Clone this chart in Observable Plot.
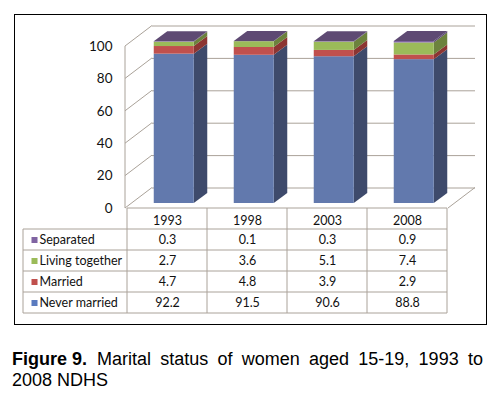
<!DOCTYPE html>
<html>
<head>
<meta charset="utf-8">
<script src="https://cdn.jsdelivr.net/npm/d3@7"></script>
<script src="https://cdn.jsdelivr.net/npm/@observablehq/plot@0.6"></script>
<style>
  body { margin: 0; background: #fff; }
  #wrap { position: relative; width: 503px; height: 412px; overflow: hidden; }
  #chart { position: absolute; left: 0; top: 0; }
  #box { position: absolute; left: 14px; top: 14px; width: 473px; height: 311px; box-sizing: border-box; border: 1.5px solid #000; pointer-events: none; }
  #caption { position: absolute; left: 12px; top: 349px; width: 471px; font-family: "Liberation Sans", Arial, sans-serif; font-size: 18px; line-height: 21px; color: #000; }
  #caption .l1 { display: flex; white-space: pre; }
  #caption .words { display: flex; justify-content: space-between; flex: 1 1 auto; margin-left: 10px; }
  #caption .word { display: block; flex: 0 0 auto; }
</style>
</head>
<body>
<div id="wrap">
  <div id="chart"></div>
  <div id="box"></div>
  <div id="caption"></div>
</div>
<script>
// ---- data ----
const years = ["1993", "1998", "2003", "2008"];
const statuses = ["Never married", "Married", "Living together", "Separated"];
const neverMarried = [92.2, 91.5, 90.6, 88.8];
const married = [4.7, 4.8, 3.9, 2.9];
const livingTogether = [2.7, 3.6, 5.1, 7.4];
const separated = [0.3, 0.1, 0.3, 0.9];
const yTicks = [0, 20, 40, 60, 80, 100];
const tableOrder = ["Separated", "Living together", "Married", "Never married"];
const captionLabel = "Figure 9.";
const captionLine1 = ["Marital", "status", "of", "women", "aged", "15-19,", "1993", "to"];
const captionLine2 = "2008 NDHS";

// ---- caption (justified first line, split into words) ----
{
  const cap = d3.select("#caption");
  const l1 = cap.append("div").attr("class", "l1");
  l1.append("b").text(captionLabel);
  const sp = l1.append("div").attr("class", "words");
  captionLine1.forEach(w => sp.append("span").attr("class", "word").text(w));
  cap.append("div").text(captionLine2);
}

// ---- styles ----
const frontColors = ["#6279ad", "#c0504d", "#9bbb59", "#8064a2"];
const sideColors = ["#3e4a6b", "#8c3532", "#6c823d", "#5b4773"];
const topColor = "#5e4a73";
const legendColors = ["#5a7bbf", "#c0504d", "#9bbb59", "#8064a2"];
const GRID = "#aaa299";
const FONT = "Lato, 'Open Sans', sans-serif";
const FS = 12.5;
const DX = 27, DY = -20.5;        // wall depth
const BDX = 13.5, BDY = -10;      // bar depth
const FX = 6.75, FY = -5;         // bar front offset
const INSET = 20;
const ROW = 21;

const seriesValues = [neverMarried, married, livingTogether, separated];
const rows = [];
years.forEach((year, i) => {
  let base = 0;
  statuses.forEach((status, s) => {
    const v = seriesValues[s][i];
    rows.push({year, status, s, value: v, y1: base, y2: base + v});
    base += v;
  });
});

function walls(index, {x, y}, values, dims) {
  const g = d3.create("svg:g").attr("stroke", GRID).attr("fill", "none").attr("stroke-width", 1);
  const x0 = dims.marginLeft, x1 = dims.width - dims.marginRight;
  for (const t of yTicks) {
    g.append("line").attr("x1", x0).attr("y1", y(t)).attr("x2", x0 + DX).attr("y2", y(t) + DY);
  }
  g.append("line").attr("x1", x0).attr("y1", y(0)).attr("x2", x0).attr("y2", y(100));
  g.append("line").attr("x1", x1).attr("y1", y(0)).attr("x2", x1 + DX).attr("y2", y(0) + DY);
  return g.node();
}

function barSides(index, {x, y}) {
  const g = d3.create("svg:g");
  const bw = x.bandwidth();
  for (const d of rows) {
    const xr = x(d.year) + bw - INSET + FX;
    const yt = y(d.y2) + FY, yb = y(d.y1) + FY;
    g.append("polygon")
      .attr("points", [[xr, yb], [xr, yt], [xr + BDX, yt + BDY], [xr + BDX, yb + BDY]].join(" "))
      .attr("fill", sideColors[d.s]);
  }
  for (const year of years) {
    const top = d3.max(rows.filter(r => r.year === year), r => r.y2);
    const xl = x(year) + INSET + FX, xr = x(year) + bw - INSET + FX;
    const yt = y(top) + FY;
    g.append("polygon")
      .attr("points", [[xl, yt], [xr, yt], [xr + BDX, yt + BDY], [xl + BDX, yt + BDY]].join(" "))
      .attr("fill", topColor);
  }
  return g.node();
}

function tableGrid(index, {x, y}, values, dims) {
  const g = d3.create("svg:g").attr("stroke", GRID).attr("fill", "none").attr("stroke-width", 1);
  const bw = x.bandwidth();
  const top = y(0);
  const left = 23;
  const xEnd = x(years[years.length - 1]) + bw;
  g.append("line").attr("x1", x(years[0])).attr("x2", xEnd).attr("y1", top).attr("y2", top);
  for (let k = 0; k <= tableOrder.length; k++) {
    const yy = top + ROW * (k + 1);
    g.append("line").attr("x1", left).attr("x2", xEnd).attr("y1", yy).attr("y2", yy);
  }
  const bottom = top + ROW * (tableOrder.length + 1);
  years.forEach(yr => g.append("line").attr("x1", x(yr)).attr("x2", x(yr)).attr("y1", top).attr("y2", bottom));
  g.append("line").attr("x1", xEnd).attr("x2", xEnd).attr("y1", top).attr("y2", bottom);
  g.append("line").attr("x1", left).attr("x2", left).attr("y1", top + ROW).attr("y2", bottom);
  return g.node();
}

const tableMarks = [];
tableMarks.push(Plot.text(years, {x: d => d, text: d => d, frameAnchor: "bottom", lineAnchor: "middle", dy: 12.5, fontSize: FS, fill: "#111"}));
tableOrder.forEach((label, k) => {
  const s = statuses.indexOf(label);
  const vals = seriesValues[s];
  const dyRow = ROW * (k + 1) + ROW / 2;
  tableMarks.push(Plot.text(years, {x: d => d, text: (d, i) => vals[i].toFixed(1), frameAnchor: "bottom", lineAnchor: "middle", dy: dyRow, fontSize: FS, fill: "#111"}));
  tableMarks.push(Plot.text([label], {text: d => d, frameAnchor: "bottom-left", lineAnchor: "middle", dx: -86, dy: dyRow, textAnchor: "start", fontSize: FS, fill: "#111"}));
  tableMarks.push(Plot.dot([label], {frameAnchor: "bottom-left", dx: -91, dy: dyRow, symbol: "square", r: 3.4, fill: legendColors[s], stroke: "none"}));
});

const chart = Plot.plot({
  width: 503,
  height: 336,
  marginLeft: 125,
  marginRight: 55,
  marginTop: 46,
  marginBottom: 128,
  style: {fontFamily: FONT, background: "transparent"},
  x: {type: "band", domain: years, padding: 0, axis: null},
  y: {domain: [0, 100], label: null},
  color: {domain: statuses, range: frontColors},
  marks: [
    Plot.ruleY(yTicks, {y: d => d, dx: DX, dy: DY, stroke: GRID, strokeOpacity: 1}),
    walls,
    barSides,
    Plot.barY(rows, {x: "year", y: "value", fill: "status", order: statuses, insetLeft: INSET, insetRight: INSET, dx: FX, dy: FY}),
    Plot.axisY({ticks: yTicks, tickSize: 0, tickPadding: 13, fontSize: 13.5, label: null, fill: "#111"}),
    tableGrid,
    ...tableMarks
  ]
});
document.getElementById("chart").appendChild(chart);
</script>
</body>
</html>
